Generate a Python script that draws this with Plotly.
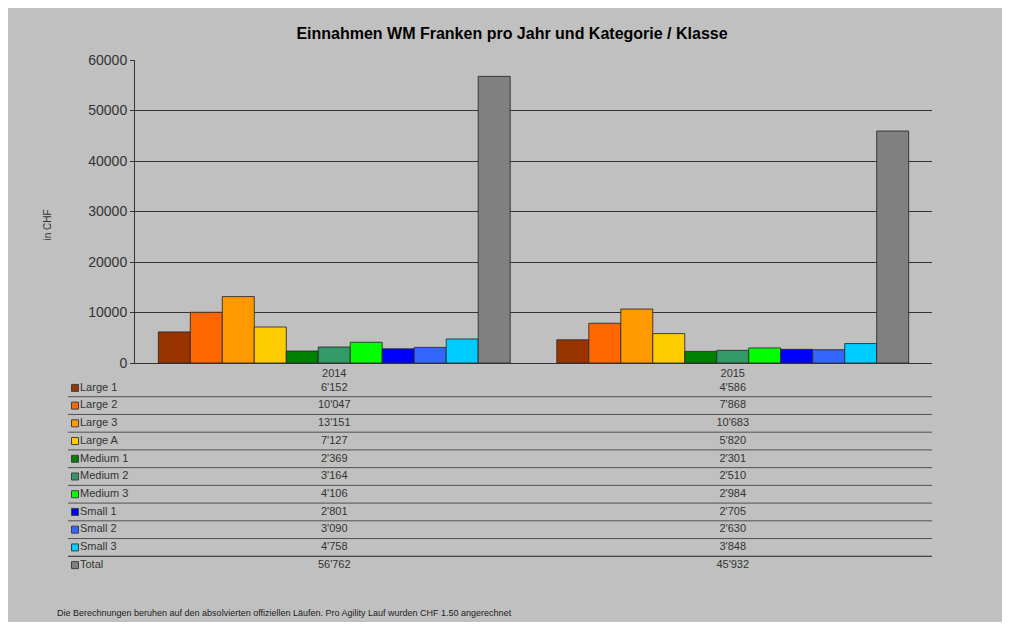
import plotly.graph_objects as go

years = ["2014", "2015"]
categories = ["Large 1", "Large 2", "Large 3", "Large A", "Medium 1", "Medium 2",
              "Medium 3", "Small 1", "Small 2", "Small 3", "Total"]
values_2014 = [6152, 10047, 13151, 7127, 2369, 3164, 4106, 2801, 3090, 4758, 56762]
values_2015 = [4586, 7868, 10683, 5820, 2301, 2510, 2984, 2705, 2630, 3848, 45932]
colors = ["#993300", "#FF6600", "#FF9900", "#FFCC00", "#008000", "#339966",
          "#00FF00", "#0000FF", "#3366FF", "#00CCFF", "#808080"]
y_ticks = [0, 10000, 20000, 30000, 40000, 50000, 60000]

OFF = 8                        # default body margin of the page
W, H = 1010 - 2 * OFF, 630 - 2 * OFF
FONT = "Liberation Sans, Arial, sans-serif"
TXT = "#333333"

def fx(p):   # page pixel x -> paper
    return (p - OFF) / W

def fy(p):   # page pixel y -> paper
    return 1 - (p - OFF) / H

def px_x(p):  # page pixel -> x data (-0.5..1.5 over 135..932)
    return -0.5 + (p - 135) / ((932 - 135) / 2)

def fmt(v):
    return f"{v:,}".replace(",", "'")

fig = go.Figure()
xpos = [0, 1]
for i, cat in enumerate(categories):
    fig.add_trace(go.Bar(
        x=xpos, y=[values_2014[i], values_2015[i]], name=cat,
        marker=dict(color=colors[i], line=dict(color="rgba(40,40,40,0.85)", width=1)),
        showlegend=False, xaxis="x", yaxis="y"))

rows = list(range(len(categories)))
fig.add_trace(go.Scatter(
    x=[px_x(75)] * len(rows), y=rows, mode="markers",
    marker=dict(symbol="square", size=7, color=colors, line=dict(color="#404040", width=1)),
    cliponaxis=False, showlegend=False, xaxis="x2", yaxis="y2", hoverinfo="skip"))
fig.add_trace(go.Scatter(
    x=[px_x(80)] * len(rows), y=rows, mode="text", text=categories,
    textposition="middle right", textfont=dict(family=FONT, size=11, color=TXT),
    cliponaxis=False, showlegend=False, xaxis="x2", yaxis="y2", hoverinfo="skip"))
for j, vals in enumerate([values_2014, values_2015]):
    fig.add_trace(go.Scatter(
        x=[xpos[j]] * len(rows), y=rows, mode="text", text=[fmt(v) for v in vals],
        textposition="middle center", textfont=dict(family=FONT, size=11, color=TXT),
        cliponaxis=False, showlegend=False, xaxis="x2", yaxis="y2", hoverinfo="skip"))

shapes = []
for r in range(len(categories) - 1):
    shapes.append(dict(type="line", xref="x2", yref="y2", x0=px_x(68), x1=1.5,
                       y0=r + 0.5, y1=r + 0.5,
                       line=dict(color="#222222" if r == len(categories) - 2 else "#505050", width=1)))

fig.update_layout(
    template="none",
    width=W, height=H, margin=dict(l=0, r=0, t=0, b=0, autoexpand=False),
    paper_bgcolor="#c0c0c0", plot_bgcolor="#c0c0c0",
    barmode="group", bargap=0.117, bargroupgap=0,
    font=dict(family=FONT, color=TXT),
    shapes=shapes,
    title=dict(text="<b>Einnahmen WM Franken pro Jahr und Kategorie / Klasse</b>",
               x=fx(512), xanchor="center", y=fy(33), yanchor="middle",
               font=dict(family=FONT, size=16, color="#000000")),
    xaxis=dict(domain=[fx(135), fx(932)], range=[-0.5, 1.5], tickvals=xpos, ticktext=years,
               showgrid=False, zeroline=False, showline=True, linecolor="#333333", linewidth=1,
               ticks="", tickfont=dict(family=FONT, size=11, color=TXT), anchor="y",
               automargin=False),
    yaxis=dict(domain=[fy(363), fy(60)], range=[0, 60000], tickvals=y_ticks, tickformat="d",
               showgrid=True, gridcolor="#333333", gridwidth=1, zeroline=False,
               showline=True, linecolor="#333333", linewidth=1, ticks="outside", ticklen=4,
               tickcolor="#333333", tickfont=dict(family=FONT, size=14, color=TXT), anchor="x",
               automargin=False),
    xaxis2=dict(domain=[fx(60), fx(932)], range=[px_x(60), 1.5], visible=False, anchor="y2",
                automargin=False),
    yaxis2=dict(domain=[fy(574), fy(379)], range=[10.5, -0.5], visible=False, anchor="x2",
                automargin=False),
    annotations=[
        dict(text="in CHF", xref="paper", yref="paper", x=fx(40), y=fy(225),
             textangle=-90, showarrow=False, font=dict(family=FONT, size=10, color=TXT)),
        dict(text="Die Berechnungen beruhen auf den absolvierten offiziellen Läufen. Pro Agility Lauf wurden CHF 1.50 angerechnet",
             xref="paper", yref="paper", x=fx(55), y=fy(613), xanchor="left", yanchor="middle",
             showarrow=False, font=dict(family=FONT, size=9, color="#222222")),
    ],
)

fig.write_html("out.html", config={"displayModeBar": False})
